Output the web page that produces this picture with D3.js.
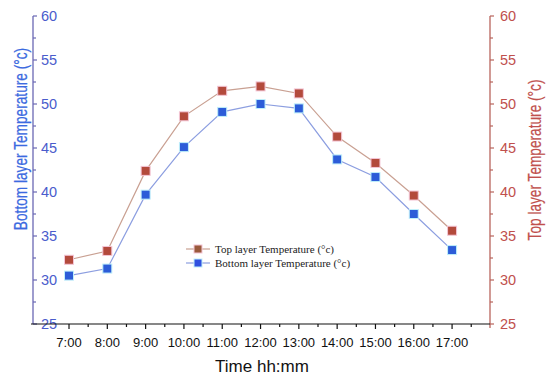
<!DOCTYPE html>
<html><head><meta charset="utf-8">
<script src="https://cdn.jsdelivr.net/npm/d3@7"></script>
<style>body{margin:0;background:#fff}svg{display:block}</style>
</head><body>
<svg id="c" width="550" height="381"></svg>
<script>
const hours = [7,8,9,10,11,12,13,14,15,16,17];
const hourLabels = ["7:00","8:00","9:00","10:00","11:00","12:00","13:00","14:00","15:00","16:00","17:00"];
const topTemp = [32.3, 33.3, 42.4, 48.6, 51.5, 52.0, 51.2, 46.3, 43.3, 39.6, 35.6];
const bottomTemp = [30.5, 31.3, 39.7, 45.1, 49.1, 50.0, 49.5, 43.7, 41.7, 37.5, 33.4];
const yTicks = [25,30,35,40,45,50,55,60];
const seriesNames = ["Top layer Temperature (\u00B0c)", "Bottom layer Temperature (\u00B0c)"];

const svg = d3.select("#c");
const L = 33, R = 490, T = 16, B = 324;
const x = d3.scaleLinear().domain([6.06, 17.99]).range([L, R]);
const y = d3.scaleLinear().domain([25, 60]).range([B, T]);

const leftLine = "#6a68b4", leftText = "#4a5ccc", leftTitle = "#3b6ae0";
const rightLine = "#b8645c", rightText = "#c0504d";
const topLineC = "#c9a092", botLineC = "#8c9ee0";
const topMark = "#b34a3c", botMark = "#2c5cd8";

// Left axis (ticks inward, labels inside)
const minorY = d3.range(25, 60.01, 2.5);
const gl = svg.append("g");
gl.append("line").attr("x1", L).attr("x2", L).attr("y1", y(60)).attr("y2", B).attr("stroke", leftLine).attr("stroke-width", 1.3);
gl.selectAll("line.t").data(minorY).join("line").attr("class","t")
  .attr("x1", L).attr("x2", d => L + (d % 5 === 0 ? 4 : 3))
  .attr("y1", d => y(d)).attr("y2", d => y(d)).attr("stroke", leftLine).attr("stroke-width", 1.2);
gl.selectAll("text").data(yTicks).join("text")
  .attr("x", L + 8).attr("y", d => y(d)).attr("dy", "0.36em")
  .attr("font-family", "Liberation Sans, Arial, sans-serif").attr("font-size", 14.5)
  .attr("fill", leftText).text(d => d);

// Right axis
const gr = svg.append("g");
gr.append("line").attr("x1", R).attr("x2", R).attr("y1", y(60)).attr("y2", B + 4).attr("stroke", rightLine).attr("stroke-width", 1.3);
gr.selectAll("line.t").data(minorY).join("line").attr("class","t")
  .attr("x1", R).attr("x2", d => R + (d % 5 === 0 ? 4 : 3))
  .attr("y1", d => y(d)).attr("y2", d => y(d)).attr("stroke", rightLine).attr("stroke-width", 1.2);
gr.selectAll("text").data(yTicks).join("text")
  .attr("x", R + 10).attr("y", d => y(d)).attr("dy", "0.36em")
  .attr("font-family", "Liberation Sans, Arial, sans-serif").attr("font-size", 14.5)
  .attr("fill", rightText).text(d => d);

// X axis
const gx = svg.append("g");
gx.append("line").attr("x1", L - 2).attr("x2", R).attr("y1", B).attr("y2", B).attr("stroke", "#111").attr("stroke-width", 1.2);
const xMinor = d3.range(7, 17.51, 0.5);
gx.selectAll("line.t").data(xMinor).join("line").attr("class","t")
  .attr("x1", d => x(d)).attr("x2", d => x(d))
  .attr("y1", B).attr("y2", d => B + (Number.isInteger(d) ? 5 : 3)).attr("stroke", "#111").attr("stroke-width", 1.2);
gx.selectAll("text").data(hours).join("text")
  .attr("x", d => x(d)).attr("y", B + 23).attr("text-anchor", "middle")
  .attr("font-family", "Liberation Sans, Arial, sans-serif").attr("font-size", 13)
  .attr("fill", "#111").text((d, i) => hourLabels[i]);

// Titles
svg.append("text").attr("x", 262).attr("y", 372).attr("text-anchor", "middle")
  .attr("font-family", "Liberation Sans, Arial, sans-serif").attr("font-size", 17).attr("fill", "#111").text("Time hh:mm");
svg.append("text").attr("transform", "translate(27,139) rotate(-90) scale(0.72,1)").attr("text-anchor", "middle")
  .attr("font-family", "Liberation Sans, Arial, sans-serif").attr("font-size", 19).attr("fill", leftTitle)
  .attr("stroke", leftTitle).attr("stroke-width", 0.25)
  .text("Bottom layer Temperature (\u00B0c)");
svg.append("text").attr("transform", "translate(541,160) rotate(-90) scale(0.76,1)").attr("text-anchor", "middle")
  .attr("font-family", "Liberation Sans, Arial, sans-serif").attr("font-size", 18).attr("fill", rightText)
  .attr("stroke", rightText).attr("stroke-width", 0.2)
  .text("Top layer Temperature (\u00B0c)");

// Series
const line = d3.line().x((d, i) => x(hours[i])).y(d => y(d));
svg.append("path").datum(topTemp).attr("d", line).attr("fill", "none").attr("stroke", topLineC).attr("stroke-width", 1.2);
svg.append("path").datum(bottomTemp).attr("d", line).attr("fill", "none").attr("stroke", botLineC).attr("stroke-width", 1.2);
const ms = 9;
svg.selectAll("rect.top").data(topTemp).join("rect").attr("class","top")
  .attr("x", (d, i) => x(hours[i]) - ms/2).attr("y", d => y(d) - ms/2)
  .attr("width", ms).attr("height", ms).attr("fill", topMark).attr("stroke", "#f4c6d6").attr("stroke-width", 1);
svg.selectAll("rect.bot").data(bottomTemp).join("rect").attr("class","bot")
  .attr("x", (d, i) => x(hours[i]) - ms/2).attr("y", d => y(d) - ms/2)
  .attr("width", ms).attr("height", ms).attr("fill", botMark).attr("stroke", "#bfeffa").attr("stroke-width", 1);

// Legend
const lg = svg.append("g");
const legItems = [
  {name: seriesNames[0], lc: topLineC, mc: "#9a5a3c", halo: "#f4c6d6", yy: 249},
  {name: seriesNames[1], lc: botLineC, mc: "#3050e0", halo: "#bfeffa", yy: 263}
];
legItems.forEach(it => {
  lg.append("line").attr("x1", 186).attr("x2", 210).attr("y1", it.yy).attr("y2", it.yy).attr("stroke", it.lc).attr("stroke-width", 1.2);
  lg.append("rect").attr("x", 194).attr("y", it.yy - 4).attr("width", 8).attr("height", 8).attr("fill", it.mc).attr("stroke", it.halo);
  lg.append("text").attr("x", 215).attr("y", it.yy).attr("dy", "0.35em")
    .attr("font-family", "Liberation Serif, Times New Roman, serif").attr("font-size", 11).attr("fill", "#222").text(it.name);
});
</script>
</body></html>
